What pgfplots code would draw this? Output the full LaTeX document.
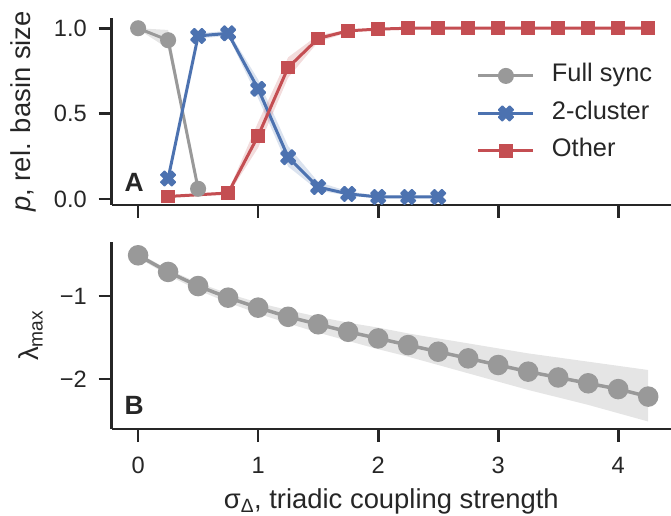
\documentclass[border=0pt]{standalone}
\usepackage{fontspec}
\setmainfont{Liberation Sans}
\usepackage{pgfplots}
\usepackage{pgfplotstable}
\pgfplotsset{compat=1.18}
\usepgfplotslibrary{fillbetween}
\definecolor{cgray}{RGB}{153,153,153}
\definecolor{cblue}{RGB}{76,114,176}
\definecolor{cred}{RGB}{196,78,82}
\definecolor{ink}{RGB}{38,38,38}

% filled "X" marker like matplotlib's 'X'
\pgfdeclareplotmark{Xfill}{%
  \pgfpathmoveto{\pgfqpoint{0pt}{0.5\pgfplotmarksize}}%
  \pgfpathlineto{\pgfqpoint{0.5\pgfplotmarksize}{\pgfplotmarksize}}%
  \pgfpathlineto{\pgfqpoint{\pgfplotmarksize}{0.5\pgfplotmarksize}}%
  \pgfpathlineto{\pgfqpoint{0.5\pgfplotmarksize}{0pt}}%
  \pgfpathlineto{\pgfqpoint{\pgfplotmarksize}{-0.5\pgfplotmarksize}}%
  \pgfpathlineto{\pgfqpoint{0.5\pgfplotmarksize}{-\pgfplotmarksize}}%
  \pgfpathlineto{\pgfqpoint{0pt}{-0.5\pgfplotmarksize}}%
  \pgfpathlineto{\pgfqpoint{-0.5\pgfplotmarksize}{-\pgfplotmarksize}}%
  \pgfpathlineto{\pgfqpoint{-\pgfplotmarksize}{-0.5\pgfplotmarksize}}%
  \pgfpathlineto{\pgfqpoint{-0.5\pgfplotmarksize}{0pt}}%
  \pgfpathlineto{\pgfqpoint{-\pgfplotmarksize}{0.5\pgfplotmarksize}}%
  \pgfpathlineto{\pgfqpoint{-0.5\pgfplotmarksize}{\pgfplotmarksize}}%
  \pgfpathclose\pgfusepathqfillstroke}

% panel A: basin sizes (mean, band low, band high)
\pgfplotstableread{
x    y     lo    hi
0    1.00  0.995 1.00
0.25 0.93  0.88  0.99
0.5  0.06  0.05  0.07
}\fullsync
\pgfplotstableread{
x    y     lo    hi
0.25 0.12  0.10  0.14
0.5  0.955 0.94  0.97
0.75 0.97  0.955 0.985
1.0  0.645 0.59  0.70
1.25 0.245 0.19  0.31
1.5  0.07  0.05  0.10
1.75 0.03  0.02  0.045
2.0  0.012 0.005 0.02
2.25 0.012 0.005 0.02
2.5  0.012 0.005 0.02
}\twocluster
\pgfplotstableread{
x    y     lo    hi
0.25 0.015 0.01  0.02
0.75 0.035 0.025 0.045
1.0  0.37  0.30  0.45
1.25 0.77  0.71  0.83
1.5  0.94  0.92  0.96
1.75 0.985 0.975 0.99
2.0  0.995 0.99  1.0
2.25 1.0   1.0   1.0
2.5  1.0   1.0   1.0
2.75 1.0   1.0   1.0
3.0  1.0   1.0   1.0
3.25 1.0   1.0   1.0
3.5  1.0   1.0   1.0
3.75 1.0   1.0   1.0
4.0  1.0   1.0   1.0
4.25 1.0   1.0   1.0
}\other
% panel B: largest Lyapunov exponent
\pgfplotstableread{
x    y     lo    hi
0    -0.51 -0.54 -0.48
0.25 -0.71 -0.75 -0.68
0.5  -0.88 -0.93 -0.84
0.75 -1.02 -1.08 -0.97
1.0  -1.14 -1.21 -1.08
1.25 -1.25 -1.33 -1.17
1.5  -1.34 -1.44 -1.25
1.75 -1.43 -1.54 -1.32
2.0  -1.51 -1.64 -1.38
2.25 -1.59 -1.73 -1.45
2.5  -1.67 -1.83 -1.51
2.75 -1.75 -1.93 -1.57
3.0  -1.83 -2.03 -1.63
3.25 -1.91 -2.13 -1.69
3.5  -1.98 -2.22 -1.74
3.75 -2.05 -2.31 -1.79
4.0  -2.12 -2.41 -1.84
4.25 -2.21 -2.51 -1.89
}\lyap

\pgfplotsset{
  panel/.style={
    scale only axis, width=559.3bp, height=187bp,
    xmin=-0.22, xmax=4.44,
    axis x line*=bottom, axis y line*=left,
    axis line style={line width=2.7bp, color=ink},
    tick align=outside, major tick length=13bp,
    tick style={line width=2.7bp, color=ink},
    minor tick num=0,
    xtick={0,1,2,3,4},
    tick label style={font=\fontsize{23.7}{28}\selectfont, text=ink, inner sep=0pt},
    xticklabel style={anchor=north, yshift=-15bp},
    yticklabel style={anchor=east, xshift=-11.7bp},
    label style={font=\fontsize{27.5}{32}\selectfont, text=ink, inner sep=0pt},
  },
}

\begin{document}
\begin{tikzpicture}
\begin{axis}[panel, at={(0,224bp)},
  ymin=-0.035, ymax=1.06,
  ytick={0,0.5,1}, yticklabels={0.0,0.5,1.0},
  xticklabels={},
  ylabel={\textit{p}, rel. basin size},
  ylabel style={at={(axis description cs:0,0.5)}, anchor=base, yshift=80.7bp},
  legend style={at={(axis description cs:0.653,0.749)}, anchor=north west,
    draw=none, fill=none, inner sep=0pt, outer sep=0pt,
    font=\fontsize{25.5}{30}\selectfont, text=ink, row sep=15.5bp,
    nodes={inner sep=0pt, text height=17bp, text depth=5bp},
    /tikz/every odd column/.append style={column sep=17bp}},
  legend cell align=left,
  legend image code/.code={\draw[mark repeat=2,mark phase=2]
    plot coordinates {(0bp,0bp)(27.5bp,0bp)(55bp,0bp)};},
]
  % bands
  \addplot[draw=none, name path=fsu, forget plot] table[y=hi]{\fullsync};
  \addplot[draw=none, name path=fsl, forget plot] table[y=lo]{\fullsync};
  \addplot[fill=cgray, fill opacity=0.25, draw=none, forget plot] fill between[of=fsu and fsl];
  \addplot[draw=none, name path=tcu, forget plot] table[y=hi]{\twocluster};
  \addplot[draw=none, name path=tcl, forget plot] table[y=lo]{\twocluster};
  \addplot[fill=cblue, fill opacity=0.2, draw=none, forget plot] fill between[of=tcu and tcl];
  \addplot[draw=none, name path=otu, forget plot] table[y=hi]{\other};
  \addplot[draw=none, name path=otl, forget plot] table[y=lo]{\other};
  \addplot[fill=cred, fill opacity=0.2, draw=none, forget plot] fill between[of=otu and otl];
  % means
  \addplot[color=cgray, line width=3bp, mark=*, mark size=6.5bp, mark options={draw=cgray, fill=cgray}]
    table[y=y]{\fullsync};
  \addplot[color=cblue, line width=3bp, mark=Xfill, mark size=7.3bp,
    mark options={fill=cblue, draw=cblue, line width=1.6bp, line join=round}]
    table[y=y]{\twocluster};
  \addplot[color=cred, line width=3bp, mark=square*, mark size=5.3bp, mark options={draw=cred, fill=cred}]
    table[y=y]{\other};
  \legend{Full sync,2-cluster,Other}
  \node[font=\bfseries\fontsize{26.5}{30}\selectfont, text=ink] at (axis description cs:0.04,0.123) {A};
\end{axis}

\begin{axis}[panel, at={(0,0)},
  ymin=-2.60, ymax=-0.35,
  ytick={-2,-1}, yticklabels={−2,−1},
  xticklabels={0,1,2,3,4},
  ylabel={λ\textsubscript{max}},
  ylabel style={at={(axis description cs:0,0.5)}, anchor=base, yshift=72.7bp},
  xlabel={σ\textsubscript{Δ}, triadic coupling strength},
  xlabel style={at={(axis description cs:0.5,0)}, anchor=base, yshift=-79bp},
]
  \addplot[draw=none, name path=lu] table[y=hi]{\lyap};
  \addplot[draw=none, name path=ll] table[y=lo]{\lyap};
  \addplot[fill=cgray, fill opacity=0.25, draw=none] fill between[of=lu and ll];
  \addplot[color=cgray, line width=3.5bp, mark=*, mark size=8.5bp, mark options={draw=cgray, fill=cgray}]
    table[y=y]{\lyap};
  \node[font=\bfseries\fontsize{26.5}{30}\selectfont, text=ink] at (axis description cs:0.04,0.128) {B};
\end{axis}
\pgfresetboundingbox
\useasboundingbox (-111.7bp,-87bp) rectangle (559.3bp,429bp);
\end{tikzpicture}
\end{document}
